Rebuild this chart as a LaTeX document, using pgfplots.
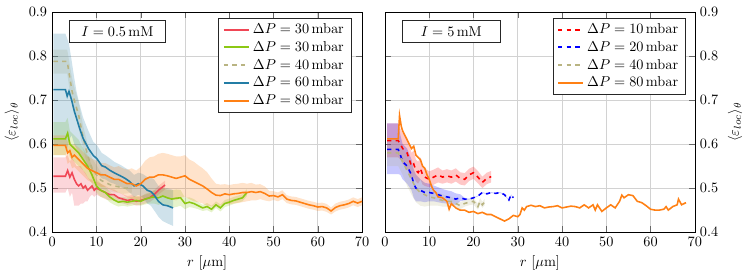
\documentclass[border=0pt]{standalone}
\usepackage{pgfplots}
\pgfplotsset{compat=1.18}
\usepackage{pgfplotstable}

\definecolor{cRed}{RGB}{240,70,85}
\definecolor{cGreen}{RGB}{140,200,20}
\definecolor{cOlive}{RGB}{185,180,130}
\definecolor{cBlue}{RGB}{35,125,165}
\definecolor{cOrange}{RGB}{255,128,20}

\pgfplotstableread{
x y lo hi
0.3 0.527 0.49 0.57
1 0.527 0.49 0.57
2 0.527 0.49 0.57
3 0.527 0.49 0.57
3.5 0.540 0.50 0.575
4 0.525 0.48 0.56
4.5 0.535 0.49 0.57
5 0.520 0.46 0.56
5.5 0.510 0.46 0.55
6 0.505 0.46 0.55
6.5 0.510 0.465 0.55
7 0.500 0.465 0.54
7.5 0.505 0.47 0.535
8 0.495 0.47 0.525
8.5 0.500 0.48 0.52
9 0.505 0.485 0.52
9.5 0.495 0.48 0.51
10 0.500 0.485 0.515
11 0.495 0.48 0.51
12 0.490 0.475 0.505
13 0.485 0.472 0.498
14 0.485 0.472 0.497
15 0.478 0.467 0.49
16 0.475 0.465 0.486
17 0.472 0.462 0.482
18 0.474 0.464 0.484
19 0.470 0.46 0.48
20 0.472 0.462 0.482
21 0.475 0.465 0.485
22 0.478 0.468 0.488
23 0.485 0.475 0.495
24 0.495 0.485 0.505
25 0.503 0.493 0.513
25.5 0.507 0.497 0.517
}\LR

\pgfplotstableread{
x y lo hi
0.3 0.612 0.575 0.65
3 0.612 0.575 0.65
3.5 0.625 0.59 0.66
4 0.600 0.57 0.63
5 0.590 0.56 0.62
6 0.580 0.55 0.61
7 0.565 0.54 0.59
8 0.550 0.525 0.575
9 0.530 0.51 0.55
10 0.505 0.49 0.52
11 0.495 0.48 0.51
12 0.490 0.477 0.503
13 0.480 0.468 0.492
14 0.473 0.462 0.484
15 0.468 0.458 0.478
16 0.470 0.46 0.48
17 0.468 0.458 0.478
18 0.470 0.46 0.48
19 0.472 0.462 0.482
20 0.470 0.46 0.48
21 0.475 0.463 0.487
22 0.478 0.465 0.49
23 0.480 0.465 0.495
24 0.478 0.462 0.494
25 0.482 0.465 0.50
26 0.478 0.46 0.496
27 0.475 0.455 0.495
28 0.477 0.457 0.497
29 0.478 0.46 0.496
30 0.465 0.452 0.478
31 0.468 0.457 0.479
32 0.465 0.455 0.475
33 0.460 0.452 0.468
34 0.455 0.448 0.462
35 0.458 0.45 0.466
36 0.452 0.445 0.46
37 0.462 0.455 0.47
38 0.455 0.447 0.463
39 0.465 0.457 0.473
40 0.468 0.46 0.476
41 0.472 0.464 0.48
42 0.475 0.467 0.483
43 0.478 0.47 0.486
44 0.490 0.482 0.498
}\LG

\pgfplotstableread{
x y lo hi
0.3 0.788 0.76 0.815
3.4 0.788 0.76 0.815
4 0.750 0.72 0.78
4.5 0.720 0.69 0.75
5 0.700 0.67 0.73
6 0.665 0.635 0.695
7 0.615 0.588 0.642
8 0.575 0.55 0.60
9 0.545 0.522 0.568
10 0.530 0.508 0.552
11 0.518 0.5 0.536
12 0.513 0.496 0.53
13 0.508 0.492 0.524
14 0.505 0.49 0.52
15 0.503 0.489 0.517
16 0.500 0.487 0.513
17 0.500 0.488 0.512
18 0.502 0.49 0.514
}\LO

\pgfplotstableread{
x y lo hi
0.3 0.724 0.597 0.851
3 0.724 0.597 0.851
3.4 0.709 0.59 0.84
3.8 0.720 0.61 0.828
4.4 0.700 0.62 0.79
5 0.675 0.60 0.75
5.5 0.659 0.59 0.72
6.2 0.636 0.58 0.69
7 0.613 0.565 0.66
8.2 0.590 0.55 0.63
9.3 0.574 0.54 0.605
10.1 0.567 0.535 0.598
11.2 0.551 0.522 0.58
12 0.548 0.52 0.575
13.1 0.540 0.513 0.567
14 0.535 0.51 0.56
15.4 0.528 0.503 0.553
16.5 0.522 0.498 0.546
17.5 0.515 0.49 0.54
18.5 0.505 0.48 0.53
19.5 0.510 0.485 0.535
20.5 0.505 0.478 0.532
21.5 0.495 0.465 0.525
22.3 0.492 0.46 0.524
23 0.485 0.45 0.52
24 0.470 0.435 0.505
25 0.462 0.425 0.499
26 0.460 0.42 0.50
27.3 0.455 0.414 0.496
}\LB

\pgfplotstableread{
x y lo hi
0.3 0.597 0.575 0.62
3 0.597 0.575 0.62
3.5 0.580 0.555 0.605
4 0.585 0.56 0.61
4.5 0.570 0.545 0.595
5 0.575 0.548 0.6
6 0.565 0.538 0.592
7 0.555 0.528 0.582
8 0.545 0.518 0.572
9 0.540 0.513 0.567
10 0.535 0.508 0.562
11 0.530 0.503 0.557
12 0.530 0.503 0.557
13 0.525 0.498 0.552
14 0.520 0.493 0.547
15 0.520 0.49 0.55
16 0.515 0.485 0.545
17 0.510 0.478 0.542
18 0.510 0.475 0.545
19 0.505 0.47 0.54
20 0.510 0.472 0.548
21 0.520 0.478 0.562
22 0.525 0.48 0.57
23 0.525 0.478 0.572
24 0.530 0.482 0.578
25 0.530 0.48 0.58
26 0.528 0.478 0.578
27 0.525 0.475 0.575
28 0.522 0.472 0.572
29 0.525 0.478 0.572
30 0.528 0.48 0.575
31 0.520 0.475 0.565
32 0.515 0.47 0.56
33 0.510 0.468 0.552
34 0.505 0.465 0.545
35 0.498 0.46 0.536
36 0.490 0.458 0.522
37 0.484 0.458 0.51
38 0.483 0.46 0.508
39 0.487 0.465 0.509
40 0.485 0.463 0.507
41 0.487 0.465 0.509
42 0.488 0.466 0.51
43 0.490 0.468 0.512
44 0.490 0.47 0.51
45 0.492 0.472 0.512
46 0.490 0.472 0.508
47 0.492 0.475 0.509
48 0.488 0.472 0.504
49 0.482 0.47 0.494
50 0.483 0.473 0.493
51 0.480 0.47 0.49
52 0.485 0.475 0.495
53 0.475 0.466 0.484
54 0.472 0.463 0.481
55 0.471 0.462 0.48
56 0.468 0.459 0.477
57 0.465 0.456 0.474
58 0.462 0.453 0.471
59 0.460 0.451 0.469
60 0.457 0.448 0.466
61 0.458 0.449 0.467
62 0.455 0.446 0.464
63 0.448 0.44 0.456
64 0.456 0.447 0.465
65 0.460 0.451 0.469
66 0.462 0.453 0.471
67 0.465 0.456 0.474
68 0.470 0.461 0.479
69 0.466 0.457 0.475
70 0.470 0.461 0.479
}\LOr

\pgfplotstableread{
x y lo hi
0.5 0.608 0.57 0.647
3 0.608 0.57 0.647
3.5 0.600 0.565 0.635
4 0.590 0.555 0.625
5 0.580 0.545 0.615
5.5 0.565 0.53 0.60
6 0.550 0.52 0.58
6.5 0.555 0.525 0.585
7 0.540 0.515 0.565
7.5 0.535 0.51 0.56
8 0.545 0.52 0.57
8.5 0.530 0.508 0.552
9 0.525 0.505 0.545
10 0.520 0.502 0.538
11 0.525 0.508 0.542
12 0.530 0.513 0.547
13 0.525 0.51 0.54
14 0.528 0.513 0.543
15 0.525 0.51 0.54
16 0.530 0.515 0.545
17 0.522 0.508 0.536
18 0.520 0.506 0.534
19 0.530 0.516 0.544
20 0.535 0.521 0.549
21 0.525 0.511 0.539
22 0.513 0.5 0.526
23 0.522 0.509 0.535
24 0.526 0.513 0.539
}\RR

\pgfplotstableread{
x y lo hi
0.5 0.588 0.532 0.647
3 0.588 0.532 0.647
3.5 0.575 0.53 0.62
4 0.560 0.52 0.60
5 0.550 0.51 0.59
6 0.530 0.495 0.565
6.5 0.510 0.478 0.542
7 0.500 0.47 0.53
8 0.495 0.47 0.52
9 0.490 0.468 0.512
10 0.490 0.47 0.51
11 0.488 0.47 0.506
12 0.485 0.468 0.502
13 0.482 0.466 0.498
14 0.480 0.465 0.495
15 0.478 0.463 0.493
16 0.475 0.462 0.488
17 0.478 0.47 0.486
18 0.475 0.472 0.478
19 0.475 0.474 0.476
20 0.478 0.477 0.479
21 0.482 0.481 0.483
22 0.490 0.489 0.491
23 0.487 0.486 0.488
24 0.490 0.489 0.491
25 0.488 0.487 0.489
26 0.490 0.489 0.491
27 0.485 0.484 0.486
28 0.473 0.472 0.474
28.5 0.485 0.484 0.486
29 0.478 0.477 0.479
}\RB

\pgfplotstableread{
x y lo hi
0.5 0.580 0.55 0.61
3 0.580 0.55 0.61
4 0.560 0.53 0.59
5 0.540 0.505 0.575
6 0.520 0.485 0.555
7 0.500 0.468 0.532
8 0.490 0.46 0.52
9 0.485 0.458 0.512
10 0.480 0.46 0.50
11 0.478 0.46 0.496
12 0.475 0.46 0.49
13 0.472 0.458 0.486
14 0.470 0.458 0.482
15 0.470 0.46 0.48
16 0.465 0.455 0.475
17 0.460 0.452 0.468
18 0.465 0.458 0.472
19 0.468 0.461 0.475
20 0.470 0.463 0.477
21 0.458 0.451 0.465
21.5 0.470 0.463 0.477
22 0.462 0.455 0.469
22.5 0.468 0.461 0.475
}\RO

\pgfplotstableread{
x y
0.5 0.612
3 0.612
3.3 0.665
3.7 0.640
4 0.630
4.5 0.620
5 0.610
5.5 0.600
6 0.590
6.5 0.595
7 0.575
7.5 0.570
8 0.565
8.5 0.550
9 0.545
9.5 0.530
10 0.520
10.5 0.505
11 0.495
11.5 0.490
12 0.480
13 0.478
14 0.470
14.5 0.452
15 0.465
16 0.455
17 0.450
18 0.450
19 0.445
20 0.447
21 0.442
22 0.445
23 0.440
24 0.440
25 0.435
26 0.430
27 0.425
28 0.430
29 0.438
30 0.435
30.5 0.440
31 0.455
31.5 0.450
32 0.458
33 0.461
34 0.458
35 0.460
36 0.455
37 0.457
38 0.458
39 0.460
40 0.455
41 0.457
42 0.459
43 0.458
44 0.455
45 0.462
46 0.455
47 0.462
47.5 0.450
48 0.462
49 0.447
50 0.455
51 0.462
52 0.455
53 0.470
53.5 0.484
54 0.478
55 0.485
56 0.483
57 0.470
58 0.467
59 0.460
60 0.452
61 0.450
62 0.450
63 0.452
63.5 0.458
64 0.450
65 0.458
66 0.462
66.3 0.475
67 0.462
68 0.467
}\ROr

% band polygon: lower edge forwards, upper edge backwards (column b)
\newcommand{\mkband}[2]{%
  \pgfplotstablesort[sort key=x, sort cmp=float <]{#2}{#1}%
  \pgfplotstablesort[sort key=x, sort cmp=float >]{\tmprev}{#1}%
  \pgfplotstablecreatecol[copy=lo]{b}{#2}%
  \pgfplotstablecreatecol[copy=hi]{b}{\tmprev}%
  \pgfplotstablevertcat{#2}{\tmprev}%
}
\mkband{\LR}{\LRb}
\mkband{\LG}{\LGb}
\mkband{\LO}{\LOb}
\mkband{\LB}{\LBb}
\mkband{\LOr}{\LOrb}
\mkband{\RR}{\RRb}
\mkband{\RB}{\RBb}
\mkband{\RO}{\ROb}

\newcommand{\band}[2]{%
  \addplot[fill=#2, fill opacity=0.22, draw=none, forget plot] table[x=x,y=b]{#1};
}

\pgfplotsset{
  myaxis/.style={
    scale only axis,
    width=217pt, height=154pt,
    xmin=0, xmax=70, ymin=0.4, ymax=0.9,
    xtick={0,10,...,70},
    ytick={0.4,0.5,...,0.9},
    yticklabel style={/pgf/number format/fixed, /pgf/number format/precision=1, /pgf/number format/fixed zerofill},
    grid=major,
    major grid style={gray!35, line width=0.5pt},
    xlabel={$r$ [$\mu$m]},
    ylabel={$\langle \varepsilon_{loc}\rangle_\theta$},
    legend cell align=left,
    legend style={draw=black!85, font=\normalsize, row sep=0pt},
    legend image code/.code={\draw[#1, line width=1.4pt] (0cm,0cm) -- (0.62cm,0cm);},
    tick style={black!60},
  }
}

\begin{document}
\begin{tikzpicture}
\begin{axis}[myaxis, name=ax1, at={(0pt,0pt)}, anchor=south west,
  legend style={at={(0.965,0.975)}, anchor=north east},
]
\band{\LRb}{cRed}
\band{\LGb}{cGreen}
\band{\LOb}{cOlive}
\band{\LBb}{cBlue}
\band{\LOrb}{cOrange}
\addplot[color=cRed, line width=1.1pt] table[x=x,y=y]{\LR};
\addlegendentry{$\Delta P = 30\,\mathrm{mbar}$}
\addplot[color=cGreen, line width=1.1pt] table[x=x,y=y]{\LG};
\addlegendentry{$\Delta P = 30\,\mathrm{mbar}$}
\addplot[color=cOlive, dashed, line width=1.1pt] table[x=x,y=y]{\LO};
\addlegendentry{$\Delta P = 40\,\mathrm{mbar}$}
\addplot[color=cBlue, line width=1.1pt] table[x=x,y=y]{\LB};
\addlegendentry{$\Delta P = 60\,\mathrm{mbar}$}
\addplot[color=cOrange, line width=1.1pt] table[x=x,y=y]{\LOr};
\addlegendentry{$\Delta P = 80\,\mathrm{mbar}$}
\node[draw=black!85, fill=white, minimum width=67pt, minimum height=15.5pt, inner sep=2pt] at (axis cs:14.75,0.856) {$I = 0.5\,\mathrm{mM}$};
\end{axis}

\begin{axis}[myaxis, name=ax2, at={(233pt,0pt)}, anchor=south west,
  yticklabel pos=right, ylabel near ticks,
  legend style={at={(0.97,0.975)}, anchor=north east},
]
\band{\RRb}{red}
\band{\RBb}{blue}
\band{\ROb}{cOlive}
\addplot[color=red, dashed, line width=1.1pt] table[x=x,y=y]{\RR};
\addlegendentry{$\Delta P = 10\,\mathrm{mbar}$}
\addplot[color=blue, dashed, line width=1.1pt] table[x=x,y=y]{\RB};
\addlegendentry{$\Delta P = 20\,\mathrm{mbar}$}
\addplot[color=cOlive, dashed, line width=1.1pt] table[x=x,y=y]{\RO};
\addlegendentry{$\Delta P = 40\,\mathrm{mbar}$}
\addplot[color=cOrange, line width=1.1pt] table[x=x,y=y]{\ROr};
\addlegendentry{$\Delta P = 80\,\mathrm{mbar}$}
\node[draw=black!85, fill=white, minimum width=69pt, minimum height=15.5pt, inner sep=2pt] at (axis cs:15,0.856) {$I = 5\,\mathrm{mM}$};
\end{axis}
\path (ax1.north west) ++(0,8.5pt);
\end{tikzpicture}
\end{document}
